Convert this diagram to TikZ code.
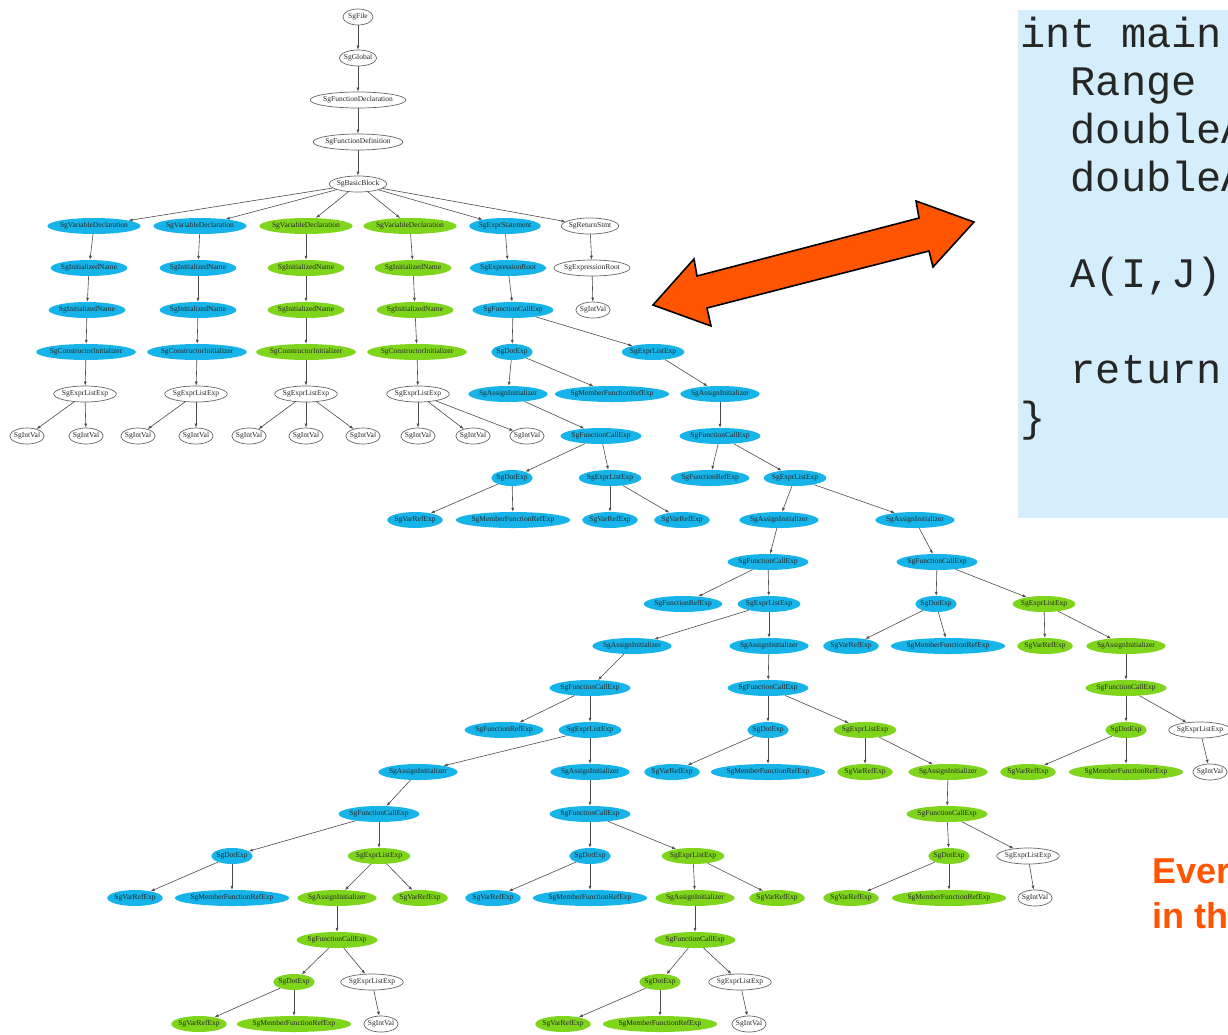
\documentclass[tikz,border=0pt]{standalone}
\usepackage{fontspec}
\setmainfont{Liberation Serif}
\newfontfamily\monof{Liberation Mono}
\newfontfamily\sansf{Liberation Sans}
\usetikzlibrary{shapes.geometric,arrows.meta}
\definecolor{nblue}{HTML}{16B4E8}
\definecolor{ngreen}{HTML}{7FD41C}
\definecolor{codebg}{HTML}{D5EEFB}
\definecolor{orng}{HTML}{FF5500}
\tikzset{
  tn/.style={ellipse, inner xsep=-1pt, inner ysep=0pt, minimum height=16pt, minimum width=30pt,
    font=\fontsize{7.5}{8}\selectfont, text=black!85},
  bn/.style={tn, fill=nblue},
  gn/.style={tn, fill=ngreen},
  wn/.style={tn, fill=white, draw=black!60, line width=0.7pt},
  edg/.style={-{Latex[length=4pt,width=3pt]}, draw=black!70, line width=0.6pt},
  codeline/.style={anchor=base west, inner sep=0pt, font=\monof\fontsize{42}{48}\selectfont, text=black!85},
  orangetext/.style={anchor=base west, inner sep=0pt, font=\sansf\bfseries\fontsize{36}{40}\selectfont, text=orng}
}
\begin{document}
\begin{tikzpicture}[x=1pt,y=-1pt]
\useasboundingbox (0,0) rectangle (1228,1034);
\clip (0,0) rectangle (1228,1034);
\fill[white] (0,0) rectangle (1228,1034);

% code box
\fill[codebg] (1018,10) rectangle (1240,518);
\node[codeline] (c1) at (1020,47) {int main};
\node[codeline] (c2) at (1020,95) {\ \ Range};
\node[codeline] (c3) at (1020,143) {\ \ doubleA};
\node[codeline] (c4) at (1020,191) {\ \ doubleA};
\node[codeline] (c5) at (1020,287) {\ \ A(I,J)};
\node[codeline] (c6) at (1020,383) {\ \ return};
\node[codeline] (c7) at (1020,431) {\}};

% orange text
\node[orangetext] (t1) at (1152,883) {Ever};
\node[orangetext] (t2) at (1152,928) {in th};

% double arrow
\draw[fill=orng, draw=black, line width=1.6pt, line join=miter]
  (653,305) -- (694,259) -- (697,276) -- (919,218) -- (916,201) -- (974,222)
  -- (933,267) -- (929,251) -- (707,308) -- (711,326) -- cycle;

% tree
\node[wn] (n0) at (358,17) {SgFile};
\node[wn] (n1) at (358,58) {SgGlobal};
\node[wn] (n2) at (358,100) {SgFunctionDeclaration};
\node[wn] (n3) at (358,142) {SgFunctionDefinition};
\node[wn] (n4) at (358,184) {SgBasicBlock};

\node[bn] (vd1) at (94,226) {SgVariableDeclaration};
\node[bn] (vd2) at (200,226) {SgVariableDeclaration};
\node[gn] (vd3) at (306,226) {SgVariableDeclaration};
\node[gn] (vd4) at (410,226) {SgVariableDeclaration};
\node[bn] (es) at (505,226) {SgExprStatement};
\node[wn] (rs) at (590,226) {SgReturnStmt};

\node[bn] (ina1) at (89,268) {SgInitializedName};
\node[bn] (ina2) at (198,268) {SgInitializedName};
\node[gn] (ina3) at (306,268) {SgInitializedName};
\node[gn] (ina4) at (413,268) {SgInitializedName};
\node[bn] (er1) at (508,268) {SgExpressionRoot};
\node[wn] (er2) at (592,268) {SgExpressionRoot};

\node[bn] (inb1) at (87,310) {SgInitializedName};
\node[bn] (inb2) at (198,310) {SgInitializedName};
\node[gn] (inb3) at (306,310) {SgInitializedName};
\node[gn] (inb4) at (415,310) {SgInitializedName};
\node[bn] (fc1) at (513,310) {SgFunctionCallExp};
\node[wn] (iv0) at (593,310) {SgIntVal};

\node[bn] (ci1) at (86,352) {SgConstructorInitializer};
\node[bn] (ci2) at (197,352) {SgConstructorInitializer};
\node[gn] (ci3) at (306,352) {SgConstructorInitializer};
\node[gn] (ci4) at (417,352) {SgConstructorInitializer};
\node[bn] (dot1) at (512,352) {SgDotExp};
\node[bn] (el1) at (653,352) {SgExprListExp};

\node[wn] (ela) at (85,394) {SgExprListExp};
\node[wn] (elb) at (196,394) {SgExprListExp};
\node[wn] (elc) at (306,394) {SgExprListExp};
\node[wn] (eld) at (418,394) {SgExprListExp};
\node[bn] (ai1) at (508,394) {SgAssignInitializer};
\node[bn] (mf1) at (612,394) {SgMemberFunctionRefExp};
\node[bn] (ai2) at (720,394) {SgAssignInitializer};

\node[wn] (iv1) at (27,436) {SgIntVal};
\node[wn] (iv2) at (86,436) {SgIntVal};
\node[wn] (iv3) at (138,436) {SgIntVal};
\node[wn] (iv4) at (196,436) {SgIntVal};
\node[wn] (iv5) at (249,436) {SgIntVal};
\node[wn] (iv6) at (306,436) {SgIntVal};
\node[wn] (iv7) at (363,436) {SgIntVal};
\node[wn] (iv8) at (418,436) {SgIntVal};
\node[wn] (iv9) at (473,436) {SgIntVal};
\node[wn] (iv10) at (527,436) {SgIntVal};
\node[bn] (fc2) at (601,436) {SgFunctionCallExp};
\node[bn] (fc3) at (720,436) {SgFunctionCallExp};

\node[bn] (dot2) at (512,478) {SgDotExp};
\node[bn] (el2) at (610,478) {SgExprListExp};
\node[bn] (fr1) at (710,478) {SgFunctionRefExp};
\node[bn] (el3) at (795,478) {SgExprListExp};

\node[bn] (vr1) at (415,520) {SgVarRefExp};
\node[bn] (mf2) at (513,520) {SgMemberFunctionRefExp};
\node[bn] (vr2) at (610,520) {SgVarRefExp};
\node[bn] (vr3) at (682,520) {SgVarRefExp};
\node[bn] (ai3) at (779,520) {SgAssignInitializer};
\node[bn] (ai4) at (915,520) {SgAssignInitializer};

\node[bn] (fc4) at (768,562) {SgFunctionCallExp};
\node[bn] (fc5) at (937,562) {SgFunctionCallExp};

\node[bn] (fr2) at (683,604) {SgFunctionRefExp};
\node[bn] (el4) at (769,604) {SgExprListExp};
\node[bn] (dot3) at (936,604) {SgDotExp};
\node[gn] (el5) at (1044,604) {SgExprListExp};

\node[bn] (ai5) at (632,646) {SgAssignInitializer};
\node[bn] (ai6) at (769,646) {SgAssignInitializer};
\node[bn] (vr4) at (851,646) {SgVarRefExp};
\node[bn] (mf3) at (948,646) {SgMemberFunctionRefExp};
\node[gn] (vr5) at (1045,646) {SgVarRefExp};
\node[gn] (ai7) at (1126,646) {SgAssignInitializer};

\node[bn] (fc6) at (590,688) {SgFunctionCallExp};
\node[bn] (fc7) at (768,688) {SgFunctionCallExp};
\node[gn] (fc8) at (1126,688) {SgFunctionCallExp};

\node[bn] (fr3) at (504,730) {SgFunctionRefExp};
\node[bn] (el6) at (590,730) {SgExprListExp};
\node[bn] (dot4) at (768,730) {SgDotExp};
\node[gn] (el7) at (865,730) {SgExprListExp};
\node[gn] (dot5) at (1126,730) {SgDotExp};
\node[wn] (el8) at (1200,730) {SgExprListExp};

\node[bn] (ai8) at (418,772) {SgAssignInitializer};
\node[bn] (ai9) at (590,772) {SgAssignInitializer};
\node[bn] (vr6) at (672,772) {SgVarRefExp};
\node[bn] (mf4) at (768,772) {SgMemberFunctionRefExp};
\node[gn] (vr7) at (865,772) {SgVarRefExp};
\node[gn] (ai10) at (948,772) {SgAssignInitializer};
\node[gn] (vr8) at (1028,772) {SgVarRefExp};
\node[gn] (mf5) at (1126,772) {SgMemberFunctionRefExp};
\node[wn] (iv11) at (1210,772) {SgIntVal};

\node[bn] (fc9) at (379,814) {SgFunctionCallExp};
\node[bn] (fc10) at (590,814) {SgFunctionCallExp};
\node[gn] (fc11) at (947,814) {SgFunctionCallExp};

\node[bn] (dot6) at (232,856) {SgDotExp};
\node[gn] (el9) at (379,856) {SgExprListExp};
\node[bn] (dot7) at (590,856) {SgDotExp};
\node[gn] (el10) at (693,856) {SgExprListExp};
\node[gn] (dot8) at (949,856) {SgDotExp};
\node[wn] (el11) at (1028,856) {SgExprListExp};

\node[bn] (vr9) at (135,898) {SgVarRefExp};
\node[bn] (mf6) at (232,898) {SgMemberFunctionRefExp};
\node[gn] (ai11) at (337,898) {SgAssignInitializer};
\node[gn] (vr10) at (420,898) {SgVarRefExp};
\node[bn] (vr11) at (493,898) {SgVarRefExp};
\node[bn] (mf7) at (590,898) {SgMemberFunctionRefExp};
\node[gn] (ai12) at (695,898) {SgAssignInitializer};
\node[gn] (vr12) at (777,898) {SgVarRefExp};
\node[gn] (vr13) at (851,898) {SgVarRefExp};
\node[gn] (mf8) at (949,898) {SgMemberFunctionRefExp};
\node[wn] (iv12) at (1035,898) {SgIntVal};

\node[gn] (fc12) at (337,940) {SgFunctionCallExp};
\node[gn] (fc13) at (695,940) {SgFunctionCallExp};

\node[gn] (dot9) at (294,982) {SgDotExp};
\node[wn] (el12) at (372,982) {SgExprListExp};
\node[gn] (dot10) at (660,982) {SgDotExp};
\node[wn] (el13) at (740,982) {SgExprListExp};

\node[gn] (vr14) at (199,1024) {SgVarRefExp};
\node[gn] (mf9) at (294,1024) {SgMemberFunctionRefExp};
\node[wn] (iv13) at (381,1024) {SgIntVal};
\node[gn] (vr15) at (563,1024) {SgVarRefExp};
\node[gn] (mf10) at (660,1024) {SgMemberFunctionRefExp};
\node[wn] (iv14) at (749,1024) {SgIntVal};

\foreach \a/\b in {n0/n1, n1/n2, n2/n3, n3/n4,
  n4/vd1, n4/vd2, n4/vd3, n4/vd4, n4/es, n4/rs,
  vd1/ina1, vd2/ina2, vd3/ina3, vd4/ina4, es/er1, rs/er2,
  ina1/inb1, ina2/inb2, ina3/inb3, ina4/inb4, er1/fc1, er2/iv0,
  inb1/ci1, inb2/ci2, inb3/ci3, inb4/ci4, fc1/dot1, fc1/el1,
  ci1/ela, ci2/elb, ci3/elc, ci4/eld, dot1/ai1, dot1/mf1, el1/ai2,
  ela/iv1, ela/iv2, elb/iv3, elb/iv4, elc/iv5, elc/iv6, elc/iv7,
  eld/iv8, eld/iv9, eld/iv10, ai1/fc2, ai2/fc3,
  fc2/dot2, fc2/el2, fc3/fr1, fc3/el3,
  dot2/vr1, dot2/mf2, el2/vr2, el2/vr3, el3/ai3, el3/ai4,
  ai3/fc4, ai4/fc5,
  fc4/fr2, fc4/el4, fc5/dot3, fc5/el5,
  el4/ai5, el4/ai6, dot3/vr4, dot3/mf3, el5/vr5, el5/ai7,
  ai5/fc6, ai6/fc7, ai7/fc8,
  fc6/fr3, fc6/el6, fc7/dot4, fc7/el7, fc8/dot5, fc8/el8,
  el6/ai8, el6/ai9, dot4/vr6, dot4/mf4, el7/vr7, el7/ai10, dot5/vr8, dot5/mf5, el8/iv11,
  ai8/fc9, ai9/fc10, ai10/fc11,
  fc9/dot6, fc9/el9, fc10/dot7, fc10/el10, fc11/dot8, fc11/el11,
  dot6/vr9, dot6/mf6, el9/ai11, el9/vr10, dot7/vr11, dot7/mf7, el10/ai12, el10/vr12,
  dot8/vr13, dot8/mf8, el11/iv12,
  ai11/fc12, ai12/fc13,
  fc12/dot9, fc12/el12, fc13/dot10, fc13/el13,
  dot9/vr14, dot9/mf9, el12/iv13, dot10/vr15, dot10/mf10, el13/iv14}
  \draw[edg] (\a) -- (\b);
\end{tikzpicture}
\end{document}
